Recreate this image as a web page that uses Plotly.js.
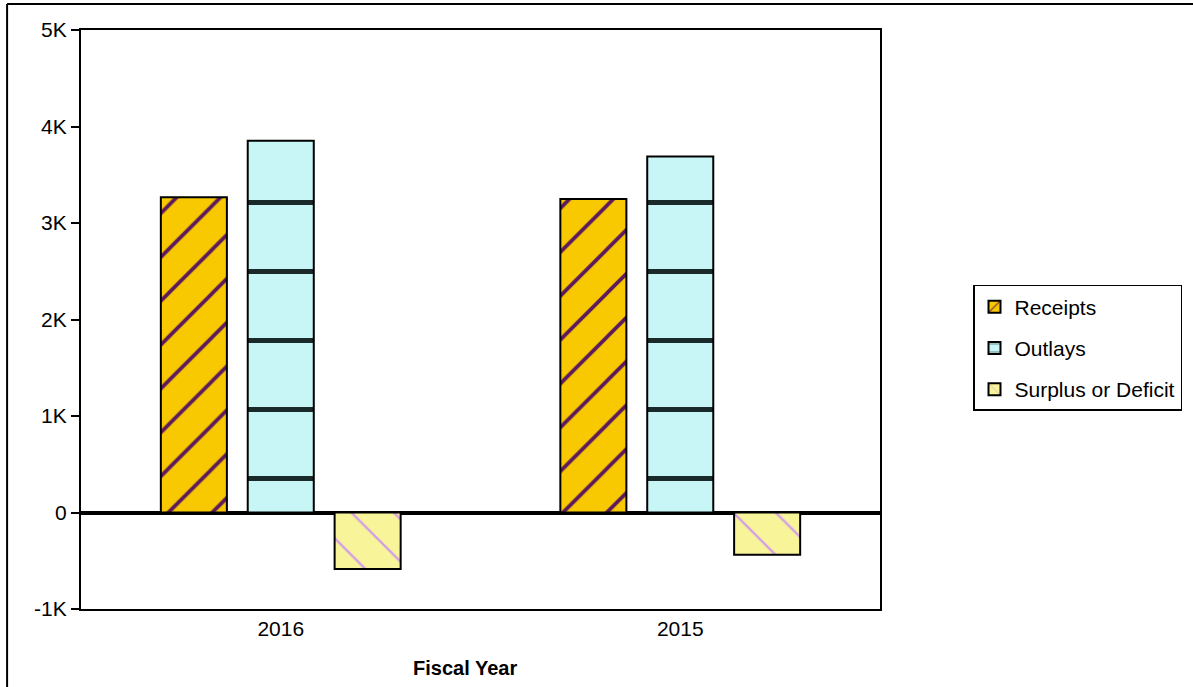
<!DOCTYPE html>
<html>
<head>
<meta charset="utf-8">
<script src="https://cdn.plot.ly/plotly-3.0.1.min.js"></script>
<style>html,body{margin:0;padding:0;background:#fff;}#chart{width:1193px;height:687px;}</style>
</head>
<body>
<div id="chart"></div>
<script>
var years = ["2016", "2015"];
var receipts = [3268, 3250];
var outlays = [3853, 3688];
var surplus = [-585, -438];
var yTickVals = [-1000, 0, 1000, 2000, 3000, 4000, 5000];
var yTickText = ["-1K", "0", "1K", "2K", "3K", "4K", "5K"];

var font = "Liberation Sans, Arial, sans-serif";

var traces = [
  {type: "bar", name: "Receipts", x: years, y: receipts, legendgroup: "a",
   marker: {color: "#f8c800", line: {color: "#000", width: 2},
            pattern: {shape: "/", fgcolor: "#5c1a5c", bgcolor: "#f8c800", size: 31, solidity: 0.12}}},
  {type: "bar", name: "Outlays", x: years, y: outlays, legendgroup: "b",
   marker: {color: "#c8f6f6", line: {color: "#000", width: 2},
            pattern: {shape: "-", fgcolor: "#1a2a2a", bgcolor: "#c8f6f6", size: 69, solidity: 0.07}}},
  {type: "bar", name: "Surplus or Deficit", x: years, y: surplus, legendgroup: "c",
   marker: {color: "#f8f49a", line: {color: "#000", width: 2},
            pattern: {shape: "\\", fgcolor: "#d4a0e8", bgcolor: "#f8f49a", size: 30, solidity: 0.08}}}
];

var layout = {
  width: 1193, height: 687,
  margin: {l: 81, r: 312, t: 30, b: 78},
  paper_bgcolor: "#fff", plot_bgcolor: "#fff",
  font: {family: font, size: 21, color: "#000"},
  barmode: "group", bargap: 0.3475, bargroupgap: 0.24,
  showlegend: true,
  legend: {x: 1.115, xanchor: "left", y: 0.4508, yanchor: "middle",
           bordercolor: "#000", borderwidth: 1.5, bgcolor: "#fff",
           font: {family: font, size: 21, color: "#000"},
           traceorder: "grouped", tracegroupgap: 11, itemwidth: 30},
  xaxis: {type: "category", showline: true, linecolor: "#000", linewidth: 2, mirror: true,
          ticks: "", showgrid: false, tickfont: {size: 21}},
  yaxis: {range: [-1000, 5000], tickvals: yTickVals, ticktext: yTickText,
          showline: true, linecolor: "#000", linewidth: 2, mirror: true,
          ticks: "outside", ticklen: 8, tickwidth: 1.5, tickcolor: "#000",
          showgrid: false, zeroline: true, zerolinecolor: "#000", zerolinewidth: 4,
          layer: "above traces", tickfont: {size: 21}},
  annotations: [
    {text: "<b>Fiscal Year</b>", xref: "paper", yref: "paper", x: 0.481, y: -0.102,
     xanchor: "center", yanchor: "middle", showarrow: false,
     font: {family: font, size: 20, color: "#000"}}
  ],
  shapes: [
    {type: "line", xref: "paper", yref: "paper", x0: -0.0925, x1: 1.4, y0: 1.0449, y1: 1.0449,
     line: {color: "#000", width: 2}},
    {type: "line", xref: "paper", yref: "paper", x0: -0.0925, x1: -0.0925, y0: 1.0449, y1: -0.15,
     line: {color: "#000", width: 2}}
  ]
};

Plotly.newPlot("chart", traces, layout, {displayModeBar: false});
</script>
</body>
</html>
